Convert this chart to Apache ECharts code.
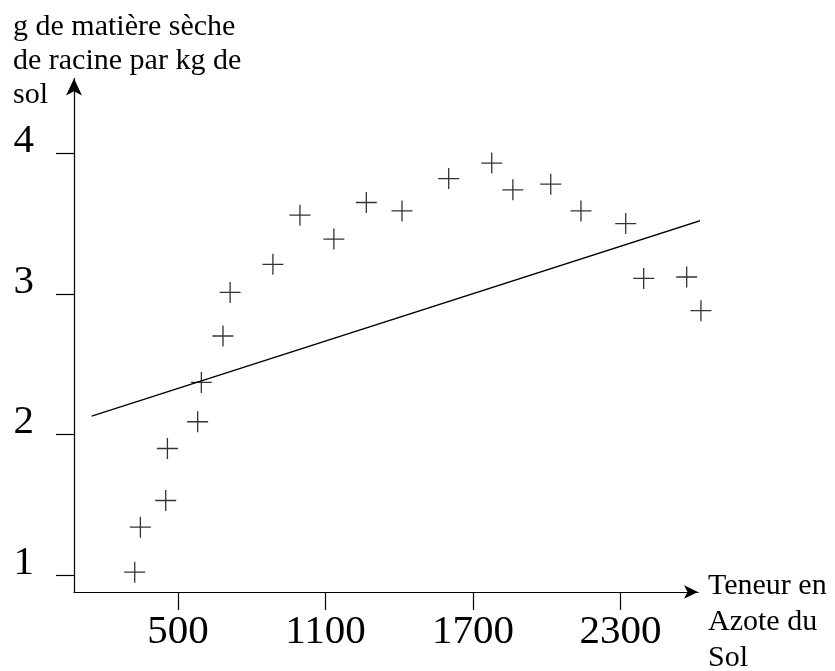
<!DOCTYPE html>
<html>
<head>
<meta charset="utf-8">
<script src="https://cdn.jsdelivr.net/npm/echarts@6/dist/echarts.min.js"></script>
<style>
  html, body {margin: 0; padding: 0; background: #fff;}
  #chart {width: 835px; height: 671px;}
</style>
</head>
<body>
<div id="chart"></div>
<script>
// nitrogen content of soil (x) vs root dry matter per kg of soil (y)
const azote = [324, 347, 450, 457, 580, 595, 683, 712, 886, 996, 1134, 1266,
  1411, 1601, 1776, 1862, 2016, 2139, 2321, 2394, 2569, 2627]
const racine = [1.02, 1.34, 1.53, 1.90, 2.09, 2.37, 2.70, 3.01, 3.21, 3.56, 3.39, 3.65,
  3.59, 3.82, 3.93, 3.74, 3.78, 3.59, 3.50, 3.11, 3.12, 2.88]

// fitted straight line, two end points
const droiteX = [149, 2632]
const droiteY = [2.13, 3.525]

const xTicks = [500, 1100, 1700, 2300]
const yTicks = [1, 2, 3, 4]

const yTitle = 'g de matière sèche\nde racine par kg de\nsol'
const xTitle = 'Teneur en\nAzote du\nSol'

const font = 'Liberation Serif'
const cross = 'path://M0,10 L20,10 M10,0 L10,20'

const chart = echarts.init(document.getElementById('chart'), null, {renderer: 'canvas'})

chart.setOption({
  animation: false,
  backgroundColor: '#fff',
  title: [
    {
      text: yTitle, left: 13, top: 10, padding: 0,
      textStyle: {fontFamily: font, fontSize: 30, fontWeight: 'normal', color: '#000', lineHeight: 34}
    },
    {
      text: xTitle, left: 708, top: 568, padding: 0,
      textStyle: {fontFamily: font, fontSize: 30, fontWeight: 'normal', color: '#000', lineHeight: 36}
    }
  ],
  grid: {left: 74, right: 137, top: 78.5, bottom: 79, containLabel: false},
  xAxis: {
    type: 'value',
    min: 77,
    max: 2615,
    splitLine: {show: false},
    axisLine: {
      onZero: false,
      symbol: ['none', 'arrow'],
      symbolSize: [10, 14],
      lineStyle: {color: '#000', width: 1.2}
    },
    axisTick: {show: true, length: 18, customValues: xTicks, lineStyle: {color: '#000', width: 1.2}},
    axisLabel: {
      customValues: xTicks,
      formatter: v => String(v),
      margin: 20,
      fontFamily: font,
      fontSize: 41,
      color: '#000'
    }
  },
  yAxis: {
    type: 'value',
    min: 0.879,
    max: 4.532,
    splitLine: {show: false},
    axisLine: {
      onZero: false,
      symbol: ['none', 'arrow'],
      symbolSize: [12, 17],
      lineStyle: {color: '#000', width: 1.2}
    },
    axisTick: {show: true, length: 18, customValues: yTicks, lineStyle: {color: '#000', width: 1.2}},
    axisLabel: {
      customValues: yTicks,
      formatter: v => String(v),
      margin: 40,
      fontFamily: font,
      fontSize: 41,
      color: '#000',
      verticalAlign: 'bottom',
      lineHeight: 24
    }
  },
  series: [
    {
      type: 'scatter',
      data: azote.map((x, i) => [x, racine[i]]),
      symbol: cross,
      symbolSize: 21,
      clip: false,
      itemStyle: {color: 'transparent', borderColor: '#000', borderWidth: 1.3},
      emphasis: {disabled: true}
    },
    {
      type: 'line',
      data: droiteX.map((x, i) => [x, droiteY[i]]),
      showSymbol: false,
      clip: false,
      lineStyle: {color: '#000', width: 1.3}
    }
  ]
})
</script>
</body>
</html>
